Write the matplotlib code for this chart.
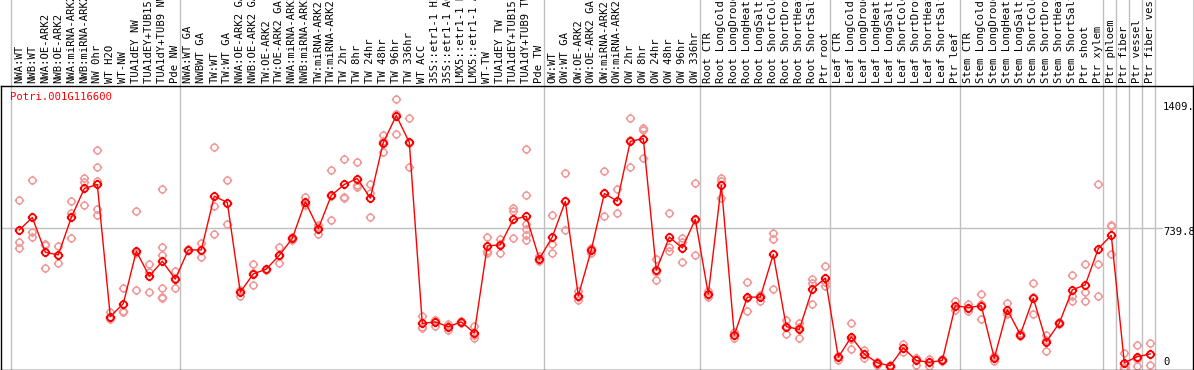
import matplotlib
matplotlib.use("Agg")
import matplotlib.pyplot as plt
from matplotlib.path import Path
from matplotlib.lines import Line2D

# ---------------- data ----------------
title = "Potri.001G116600"

group_nw = ["NWA:WT", "NWB:WT", "NWA:OE-ARK2", "NWB:OE-ARK2", "NWA:miRNA-ARK2",
            "NWB:miRNA-ARK2", "NW 0hr", "WT H2O", "WT-NW", "TUA1dEY NW",
            "TUA1dEY+TUB15 NW", "TUA1dY+TUB9 NW", "Pde NW"]
group_tw = ["NWA:WT GA", "NWBWT GA", "TW:WT", "TW:WT GA", "NWA:OE-ARK2 GA",
            "NWB:OE-ARK2 GA", "TW:OE-ARK2", "TW:OE-ARK2 GA", "NWA:miRNA-ARK2 GA",
            "NWB:miRNA-ARK2 GA", "TW:miRNA-ARK2", "TW:miRNA-ARK2 GA", "TW 2hr", "TW 8hr",
            "TW 24hr", "TW 48hr", "TW 96hr", "TW 336hr", "WT ACC", "35S::etr1-1 H2O",
            "35S::etr1-1 ACC", "LMX5::etr1-1 H2O", "LMX5::etr1-1 ACC", "WT-TW",
            "TUA1dEY TW", "TUA1dEY+TUB15 TW", "TUA1dY+TUB9 TW", "Pde TW"]
group_ow = ["OW:WT", "OW:WT GA", "OW:OE-ARK2", "OW:OE-ARK2 GA", "OW:miRNA-ARK2",
            "OW:miRNA-ARK2 GA", "OW 2hr", "OW 8hr", "OW 24hr", "OW 48hr", "OW 96hr",
            "OW 336hr"]
group_root = ["Root CTR", "Root LongCold", "Root LongDrought", "Root LongHeat",
              "Root LongSalt", "Root ShortCold", "Root ShortDrought", "Root ShortHeat",
              "Root ShortSalt", "Ptr root"]
group_leaf = ["Leaf CTR", "Leaf LongCold", "Leaf LongDrought", "Leaf LongHeat",
              "Leaf LongSalt", "Leaf ShortCold", "Leaf ShortDrought", "Leaf ShortHeat",
              "Leaf ShortSalt", "Ptr leaf"]
group_stem = ["Stem CTR", "Stem LongCold", "Stem LongDrought", "Stem LongHeat",
              "Stem LongSalt", "Stem ShortCold", "Stem ShortDrought", "Stem ShortHeat",
              "Stem ShortSalt", "Ptr shoot", "Ptr xylem"]
group_phloem = ["Ptr phloem"]
group_fiber = ["Ptr fiber"]
group_vessel = ["Ptr vessel"]
group_fv = ["Ptr fiber vessel"]

groups = [group_nw, group_tw, group_ow, group_root, group_leaf, group_stem,
          group_phloem, group_fiber, group_vessel, group_fv]

means = [727, 792, 611, 597, 792, 943, 964, 276, 343, 616, 486, 564, 471,
         623, 623, 903, 870, 403, 498, 523, 595, 683, 874, 734, 907, 964, 995, 893,
         1182, 1323, 1183, 240, 248, 223, 248, 190, 644, 649, 782, 798, 576,
         690, 876, 384, 623, 917, 877, 1189, 1203, 517, 690, 633, 782,
         393, 960, 180, 377, 377, 600, 223, 209, 419, 476,
         64, 170, 81, 35, 19, 113, 47, 38, 47, 332,
         323, 332, 59, 311, 182, 372, 144, 242, 415, 441, 630,
         699, 35, 67, 81]

replicates = [
    [881, 663, 632], [986, 718, 689], [655, 650, 528], [642, 554, 595],
    [877, 816, 683], [998, 977, 855], [1145, 1057, 983, 834, 804], [270, 262, 300],
    [422, 300, 307], [825, 414, 609], [550, 509, 403],
    [938, 638, 597, 424, 377, 372], [514, 424, 475],
    [623, 620, 626], [659, 588, 622], [1158, 850, 704], [986, 756, 868],
    [415, 384, 410], [550, 440, 505], [523, 520, 526], [640, 554, 591],
    [692, 680, 677], [900, 856, 866], [751, 708, 743], [1038, 779, 904],
    [1099, 900, 893], [1080, 962, 951], [964, 794, 921], [1221, 1135, 1190],
    [1409.1, 1228, 1331], [1312, 1057, 1180], [280, 222, 218], [260, 227, 257],
    [208, 235, 226], [255, 245, 244], [228, 165, 178], [690, 619, 606],
    [682, 609, 656], [841, 825, 683], [1151, 907, 756, 730, 699, 673],
    [590, 565, 573],
    [803, 654, 606], [1026, 725, 877], [410, 363, 379], [633, 609, 627],
    [1033, 798, 920], [938, 815, 878], [1312, 1057, 1198], [1258, 1246, 1104],
    [575, 466, 510], [813, 640, 618], [687, 664, 559], [974, 595, 777],
    [410, 380, 389], [1000, 896, 984], [196, 165, 180], [455, 305, 372],
    [358, 390, 383], [711, 678, 419], [256, 185, 228], [240, 165, 222],
    [472, 450, 341], [538, 434, 456],
    [72, 50, 70], [244, 107, 159], [102, 61, 80], [25, 40, 40], [19, 15, 23],
    [135, 92, 112], [59, 21, 61], [56, 17, 41], [56, 43, 42], [355, 311, 330],
    [341, 305, 323], [393, 263, 340], [69, 43, 65], [346, 291, 296],
    [192, 176, 178], [450, 289, 377], [182, 95, 155], [250, 235, 241],
    [492, 384, 355], [549, 403, 358], [964, 549, 383],
    [753, 746, 600], [87, 15, 3], [128, 16, 57], [139, 21, 83],
]

max_label = "1409."
mid_label = "739.8"
zero_label = "0"
y_top = 1479.6

# ---------------- figure ----------------
FONT = "DejaVu Sans Mono"
FS = 7.6

W, H = 1194, 370
fig = plt.figure(figsize=(W / 100, H / 100), dpi=100)
fig.patch.set_facecolor("white")

ax_left, ax_right = 1.0, 1193.0
ax_top, ax_bot = 85.5, 369.5
ax = fig.add_axes([ax_left / W, (H - ax_bot) / H,
                   (ax_right - ax_left) / W, (ax_bot - ax_top) / H])

labels = [lab for g in groups for lab in g]
n = len(labels)
xs = list(range(n))

x0_px, step_px = 19.3, 13.0
ax.set_xlim((ax_left - x0_px) / step_px, (ax_right - x0_px) / step_px)
ax.set_ylim(0, y_top)
ax.set_xticks([])
ax.set_yticks([])
for s in ax.spines.values():
    s.set_color("black")
    s.set_linewidth(1.0)

# marker: circle with small outer ticks
segs = [[(0, 1), (0, 1.4)], [(0, -1), (0, -1.4)], [(1, 0), (1.4, 0)], [(-1, 0), (-1.4, 0)]]
marker = Path.make_compound_path(Path.unit_circle(),
                                 *[Path(s, [Path.MOVETO, Path.LINETO]) for s in segs])

# vertical group separators (extend through header)
start = 0
bounds = []
for g in groups:
    bounds.append(start - 0.63)
    start += len(g)
bounds.append(start - 0.63)
for b in bounds:
    ax.axvline(b, ymin=0, ymax=ax_bot / (ax_bot - ax_top) + 0.01, color="#c0c0c0",
               lw=1.0, clip_on=False, zorder=0)

# horizontal mid gridline
ax.plot([ax.get_xlim()[0], (1162 - x0_px) / step_px], [y_top / 2, y_top / 2],
        color="#c0c0c0", lw=1.0, zorder=0, clip_on=False)

# replicates
for i, reps in enumerate(replicates):
    ax.plot([i] * len(reps), reps, linestyle="none", marker=marker, markersize=6.8,
            markerfacecolor="none", markeredgecolor="#f09a9a", markeredgewidth=1.1,
            zorder=2, clip_on=False)

# mean line
ax.plot(xs, means, color="#ff0000", lw=1.0, marker=marker, markersize=6.8,
        markerfacecolor="none", markeredgecolor="#ff0000", markeredgewidth=1.3,
        zorder=3, clip_on=False)

# header labels
for i, lab in enumerate(labels):
    ax.annotate(lab, xy=(i, 1), xycoords=("data", "axes fraction"),
                xytext=(0, 2.5), textcoords="offset pixels", rotation=90,
                ha="center", va="bottom", fontsize=FS, family=FONT,
                color="black", annotation_clip=False)

# title
fig.text(10 / W, 1 - 97 / H, title, color="#ff0000", fontsize=FS, family=FONT,
         ha="left", va="center")

# right value labels
fig.text(1163 / W, 1 - 107 / H, max_label, fontsize=FS, family=FONT, va="center")
fig.text(1163 / W, 1 - 232 / H, mid_label, fontsize=FS, family=FONT, va="center")
fig.text(1163 / W, 1 - 362 / H, zero_label, fontsize=FS, family=FONT, va="center")

# right border line through header
fig.add_artist(Line2D([1193.5 / W, 1193.5 / W], [0, 1], color="black", lw=1.0))

fig.savefig("out.png", dpi=100, facecolor="white")
